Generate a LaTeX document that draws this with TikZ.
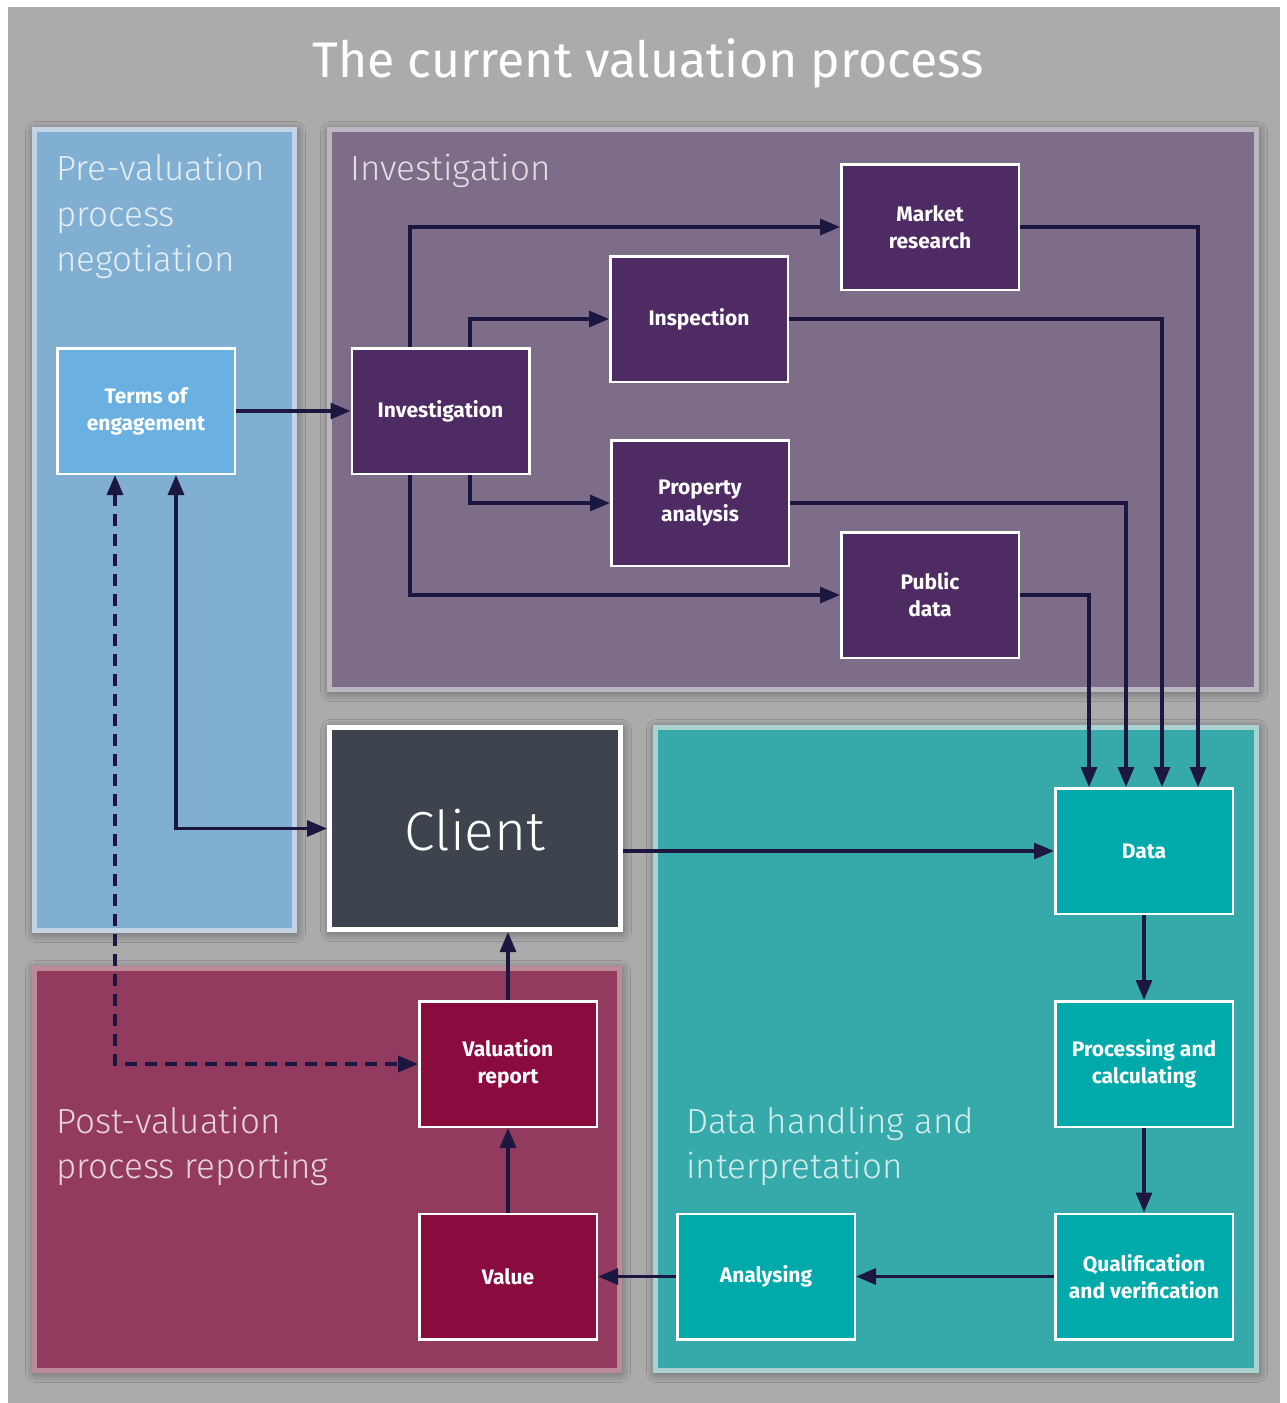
\documentclass[tikz,border=0pt]{standalone}
\usepackage{fontspec}
\setmainfont{Fira Sans}
\newfontfamily\lightfont{Fira Sans Light}
\usetikzlibrary{arrows.meta,shadows.blur}
\definecolor{bggray}{HTML}{ABABAB}
\definecolor{blueregion}{HTML}{80AFD1}
\definecolor{blueedge}{HTML}{C3D3E3}
\definecolor{purpregion}{HTML}{7E6D88}
\definecolor{purpedge}{HTML}{BCB6C1}
\definecolor{tealregion}{HTML}{36AAAA}
\definecolor{tealedge}{HTML}{A9D2D1}
\definecolor{maroonregion}{HTML}{933B5E}
\definecolor{maroonedge}{HTML}{BD8B97}
\definecolor{clientfill}{HTML}{3D444D}
\definecolor{termsfill}{HTML}{6AB0E0}
\definecolor{purpnode}{HTML}{4E2B62}
\definecolor{tealnode}{HTML}{00A9AA}
\definecolor{maroonnode}{HTML}{8A0B3E}
\definecolor{arrowc}{HTML}{1B1740}
\begin{document}
\begin{tikzpicture}[x=1pt,y=-1pt,
  regionshadow/.style={blur shadow={shadow xshift=1pt,shadow yshift=-2pt,shadow blur radius=10pt,shadow blur steps=12,shadow opacity=50}},
  region/.style={line width=5pt,regionshadow},
  regionlabel/.style={anchor=base west,inner sep=0pt,text=white,text opacity=0.78,font=\lightfont\fontsize{35}{45}\selectfont},
  box/.style={draw=white,line width=2.5pt,minimum width=177.5pt,minimum height=125.5pt,inner sep=2pt,
    align=center,text=white,font=\bfseries\fontsize{21}{27}\selectfont},
  purpbox/.style={box,fill=purpnode},
  tealbox/.style={box,fill=tealnode},
  maroonbox/.style={box,fill=maroonnode},
  arr/.style={draw=arrowc,line width=3.2pt,-{Triangle[length=20pt,width=16pt]}},
  dblarr/.style={draw=arrowc,line width=3.2pt,{Triangle[length=20pt,width=16pt]}-{Triangle[length=20pt,width=16pt]}},
  dasharr/.style={dblarr,dash pattern=on 12pt off 8pt}
]
\useasboundingbox (0,0) rectangle (1286,1403);
\fill[bggray] (8,7) rectangle (1280,1403);

% title
\node[anchor=base,inner sep=0pt,text=white,font=\fontsize{50}{60}\selectfont] (title) at (648,77) {The current valuation process};

% regions
\draw[region,fill=blueregion,draw=blueedge] (34.5,129.5) rectangle (294.5,930.5);
\draw[region,fill=purpregion,draw=purpedge] (329.5,129.5) rectangle (1256.5,689.5);
\draw[region,fill=tealregion,draw=tealedge] (655.5,727.5) rectangle (1256.5,1370.5);
\draw[region,fill=maroonregion,draw=maroonedge] (34.5,968.5) rectangle (619.5,1370.5);

% region labels
\node[regionlabel] (pre1) at (56,180) {Pre-valuation};
\node[regionlabel] (pre2) at (56,226) {process};
\node[regionlabel] (pre3) at (56,271) {negotiation};
\node[regionlabel] (invlabel) at (350,180) {Investigation};
\node[regionlabel] (post1) at (56,1133) {Post-valuation};
\node[regionlabel] (post2) at (56,1178) {process reporting};
\node[regionlabel] (dh1) at (686,1133) {Data handling and};
\node[regionlabel] (dh2) at (686,1178) {interpretation};

% client
\node[draw=white,line width=5pt,fill=clientfill,minimum width=291pt,minimum height=202pt,regionshadow] (client) at (475,828.5) {};
\node[anchor=base,inner sep=0pt,text=white,font=\lightfont\fontsize{55}{60}\selectfont] (clienttext) at (475,850) {Client};

% nodes
\node[box,fill=termsfill] (terms) at (146,411) {Terms of\\engagement};
\node[purpbox] (inv) at (440.5,411) {Investigation};
\node[purpbox] (market) at (930,227) {Market\\research};
\node[purpbox] (insp) at (699,319) {Inspection};
\node[purpbox] (prop) at (700,503) {Property\\analysis};
\node[purpbox] (public) at (930,595) {Public\\data};
\node[tealbox] (data) at (1144,851) {Data};
\node[tealbox] (proc) at (1144,1064) {Processing and\\calculating};
\node[tealbox] (qual) at (1144,1276.5) {Qualification\\and verification};
\node[tealbox] (anal) at (766,1276.5) {Analysing};
\node[maroonbox] (valrep) at (508,1064) {Valuation\\report};
\node[maroonbox] (value) at (508,1276.5) {Value};

% connectors
\draw[arr] (terms.east) -- (inv.west);
\draw[arr] ([xshift=-30.5pt]inv.north) |- (market.west);
\draw[arr] ([xshift=29.5pt]inv.north) |- (insp.west);
\draw[arr] ([xshift=29.5pt]inv.south) |- (prop.west);
\draw[arr] ([xshift=-30.5pt]inv.south) |- (public.west);
\draw[arr] (market.east) -| ([xshift=54pt]data.north);
\draw[arr] (insp.east) -| ([xshift=18pt]data.north);
\draw[arr] (prop.east) -| ([xshift=-18pt]data.north);
\draw[arr] (public.east) -| ([xshift=-55pt]data.north);
\draw[arr] (client.east |- data.west) -- (data.west);
\draw[arr] (data.south) -- (proc.north);
\draw[arr] (proc.south) -- (qual.north);
\draw[arr] (qual.west) -- (anal.east);
\draw[arr] (anal.west) -- (value.east);
\draw[arr] (value.north) -- (valrep.south);
\draw[arr] (valrep.north) -- (valrep.north |- client.south);
\draw[dblarr] ([xshift=30pt]terms.south) |- (client.west);
\draw[dasharr] ([xshift=-31pt]terms.south) |- (valrep.west);
\end{tikzpicture}
\end{document}
